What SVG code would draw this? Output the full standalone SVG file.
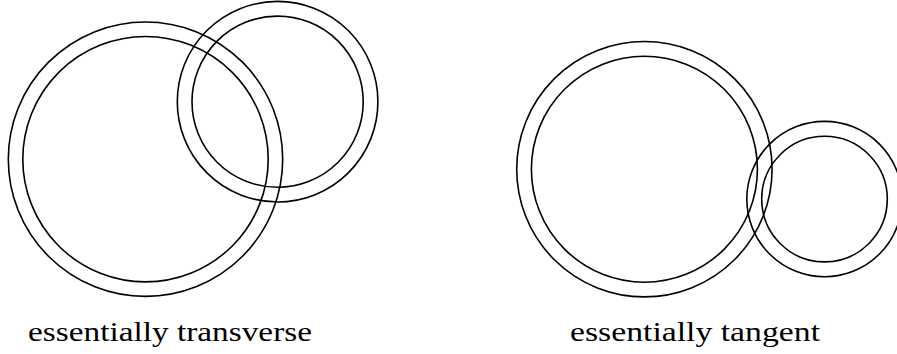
<svg xmlns="http://www.w3.org/2000/svg" width="897" height="354" viewBox="0 0 897 354">
<style>
.c{fill:none;stroke:#000;stroke-width:1.6}
.t{font-family:"Liberation Serif","Times New Roman",serif;font-size:28px;fill:#000}
</style>
<rect width="897" height="354" fill="#fff"/>
<g id="transverse-big">
<circle class="c" cx="145.5" cy="159.2" r="137.2"/>
<circle class="c" cx="145.5" cy="159.2" r="122.7"/>
</g>
<g id="transverse-small">
<circle class="c" cx="277.6" cy="101.7" r="100.3"/>
<circle class="c" cx="277.6" cy="101.7" r="85.6"/>
</g>
<g id="tangent-big">
<circle class="c" cx="644.4" cy="169.2" r="127.7"/>
<circle class="c" cx="644.4" cy="169.2" r="113"/>
</g>
<g id="tangent-small">
<circle class="c" cx="824.5" cy="199.1" r="77.7"/>
<circle class="c" cx="824.5" cy="199.1" r="62.8"/>
</g>
<g id="labels">
<text class="t" x="28" y="340.5" textLength="284" lengthAdjust="spacingAndGlyphs">essentially transverse</text>
<text class="t" x="570" y="340.5" textLength="250" lengthAdjust="spacingAndGlyphs">essentially tangent</text>
</g>
</svg>
